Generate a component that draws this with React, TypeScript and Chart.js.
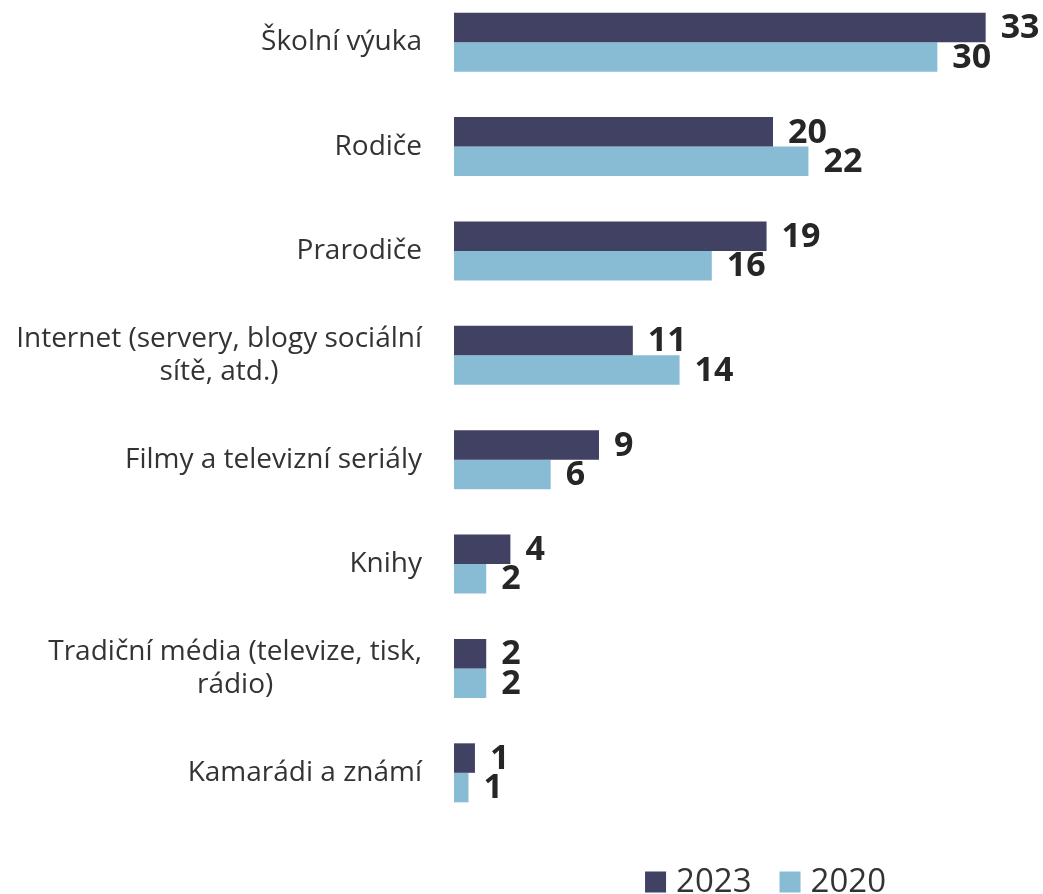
import React, { useEffect, useRef } from 'react';
import { Chart, registerables } from 'chart.js';

Chart.register(...registerables);

const categories: string[][] = [
  ['Školní výuka'],
  ['Rodiče'],
  ['Prarodiče'],
  ['Internet (servery, blogy sociální', 'sítě, atd.)'],
  ['Filmy a televizní seriály'],
  ['Knihy'],
  ['Tradiční média (televize, tisk,', 'rádio)'],
  ['Kamarádi a známí'],
];
const values2023 = [33.0, 19.8, 19.4, 11.1, 9.0, 3.5, 2.0, 1.3];
const values2020 = [30.0, 22.0, 16.0, 14.0, 6.0, 2.0, 2.0, 0.9];
const labels2023 = ['33', '20', '19', '11', '9', '4', '2', '1'];
const labels2020 = ['30', '22', '16', '14', '6', '2', '2', '1'];
const seriesNames = ['2023', '2020'];
const seriesColors = ['#414164', '#87BCD4'];
const valueLabels = [labels2023, labels2020];

const FONT = '"Open Sans", Lato, sans-serif';

const categoryLabelPlugin = {
  id: 'categoryLabels',
  afterDraw(chart: any) {
    const ctx = chart.ctx;
    const yScale = chart.scales.y;
    ctx.save();
    ctx.font = `28px ${FONT}`;
    ctx.fillStyle = '#333333';
    ctx.textBaseline = 'middle';
    ctx.textAlign = 'center';
    const rightX = yScale.right - 32;
    const lh = 33;
    categories.forEach((lines, i) => {
      const y = yScale.getPixelForTick(i);
      const blockW = Math.max(...lines.map((l) => ctx.measureText(l).width));
      const cx = rightX - blockW / 2;
      const startY = y - ((lines.length - 1) * lh) / 2;
      lines.forEach((l, j) => ctx.fillText(l, cx, startY + j * lh));
    });
    ctx.restore();
  },
};

const valueLabelPlugin = {
  id: 'valueLabels',
  afterDatasetsDraw(chart: any) {
    const ctx = chart.ctx;
    ctx.save();
    ctx.font = `bold 34px ${FONT}`;
    ctx.fillStyle = '#262626';
    ctx.textBaseline = 'middle';
    ctx.textAlign = 'left';
    chart.data.datasets.forEach((ds: any, di: number) => {
      const meta = chart.getDatasetMeta(di);
      meta.data.forEach((el: any, i: number) => {
        ctx.fillText(valueLabels[di][i], el.x + 15, el.y + 1);
      });
    });
    ctx.restore();
  },
};

const legendPlugin = {
  id: 'customLegend',
  afterDraw(chart: any) {
    const ctx = chart.ctx;
    ctx.save();
    ctx.font = `33px ${FONT}`;
    ctx.textBaseline = 'middle';
    ctx.textAlign = 'left';
    const box = 21;
    const gapText = 10;
    const gapItem = 28;
    const items = chart.data.datasets.map((ds: any) => ({
      text: ds.label,
      color: ds.backgroundColor,
      w: box + gapText + ctx.measureText(ds.label).width,
    }));
    const total = items.reduce((s: number, it: any) => s + it.w, 0) + gapItem * (items.length - 1);
    let x = chart.width - 157 - total;
    const cy = chart.height - 12;
    items.forEach((it: any) => {
      ctx.fillStyle = it.color;
      ctx.fillRect(x, cy - box / 2, box, box);
      ctx.fillStyle = '#333333';
      ctx.fillText(it.text, x + box + gapText, cy + 1);
      x += it.w + gapItem;
    });
    ctx.restore();
  },
};

export default function App() {
  const ref = useRef<HTMLCanvasElement>(null);
  useEffect(() => {
    if (!ref.current) return;
    const chart = new Chart(ref.current, {
      type: 'bar',
      data: {
        labels: categories.map((c) => c.join(' ')),
        datasets: [
          {
            label: seriesNames[0],
            data: values2023,
            backgroundColor: seriesColors[0],
            categoryPercentage: 0.565,
            barPercentage: 1,
          },
          {
            label: seriesNames[1],
            data: values2020,
            backgroundColor: seriesColors[1],
            categoryPercentage: 0.565,
            barPercentage: 1,
          },
        ],
      },
      options: {
        indexAxis: 'y',
        animation: false,
        responsive: true,
        maintainAspectRatio: false,
        layout: { padding: { top: 10, bottom: 69, right: 9, left: 0 } },
        plugins: { legend: { display: false }, tooltip: { enabled: false } },
        scales: {
          x: {
            min: 0,
            max: 36,
            display: false,
            grid: { display: false },
          },
          y: {
            grid: { display: false },
            border: { display: false },
            ticks: { display: false },
            afterFit: (s: any) => {
              s.width = 454;
            },
          },
        },
      },
      plugins: [categoryLabelPlugin, valueLabelPlugin, legendPlugin],
    });
    return () => chart.destroy();
  }, []);
  return (
    <div style={{ position: 'absolute', left: 0, top: -20, width: 1043, height: 914 }}>
      <canvas ref={ref} />
    </div>
  );
}
